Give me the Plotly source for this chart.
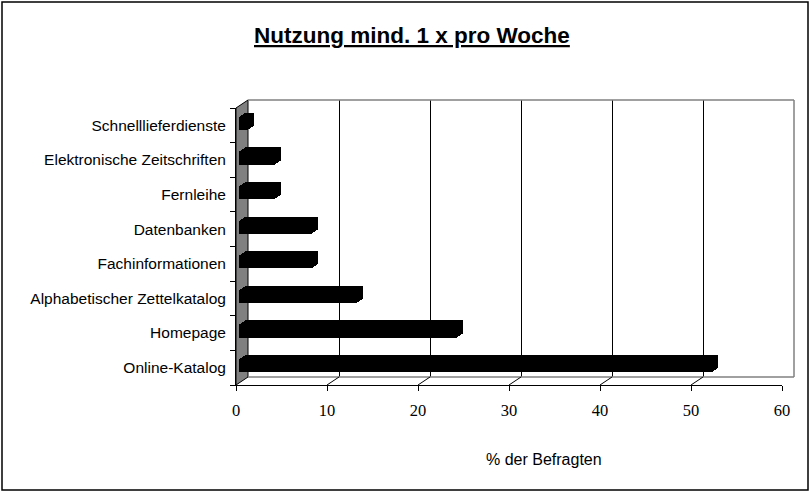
import plotly.graph_objects as go

# ---- data (bottom to top, as drawn) ----
categories = [
    "Online-Katalog",
    "Homepage",
    "Alphabetischer Zettelkatalog",
    "Fachinformationen",
    "Datenbanken",
    "Fernleihe",
    "Elektronische Zeitschriften",
    "Schnelllieferdienste",
]
values = [52, 24, 13, 8, 8, 4, 4, 1]
x_ticks = [0, 10, 20, 30, 40, 50, 60]
title_text = "Nutzung mind. 1 x pro Woche"
x_title = "% der Befragten"

W, H = 811, 492


def X(p):
    return p / W


def Y(p):
    return 1 - p / H


# front plane of the pseudo-3D box (pixels)
FX0, FX1, FYT, FYB = 236, 782, 108, 385
DX, DY = 12, 8  # depth offset
SANS = "Liberation Sans, Arial, sans-serif"
SERIF = "Liberation Serif, Times New Roman, serif"
XR = [0, 60]
YR = [-0.5, len(categories) - 0.5]

fig = go.Figure()
layout = {}

# subplot 1: back wall with gridlines
fig.add_trace(go.Scatter(x=XR, y=[0, 1], mode="markers", marker=dict(opacity=0),
                         hoverinfo="skip", showlegend=False, xaxis="x", yaxis="y"))
layout["xaxis"] = dict(domain=[X(FX0 + DX), X(FX1 + DX)], range=XR, tickvals=x_ticks[1:-1],
                       showgrid=True, gridcolor="black", gridwidth=1, showticklabels=False,
                       ticks="", zeroline=False, showline=False, anchor="y", fixedrange=True,
                       automargin=False)
layout["yaxis"] = dict(domain=[Y(FYB - DY), Y(FYT - DY)], range=[0, 1], visible=False,
                       anchor="x", fixedrange=True, automargin=False)

# subplot 2: front axes (value ticks and category labels)
fig.add_trace(go.Scatter(x=values, y=categories, mode="markers", marker=dict(opacity=0),
                         hoverinfo="skip", showlegend=False, xaxis="x2", yaxis="y2"))
layout["xaxis2"] = dict(domain=[X(FX0), X(FX1)], range=XR, tickvals=x_ticks, ticks="outside",
                        ticklen=5, tickcolor="black", showline=True, linecolor="black",
                        linewidth=1, showgrid=False, zeroline=False, anchor="y2",
                        ticklabelstandoff=5, automargin=False,
                        tickfont=dict(family=SERIF, size=16.5, color="black"), fixedrange=True)
layout["yaxis2"] = dict(domain=[Y(FYB), Y(FYT)], type="category", categoryorder="array",
                        categoryarray=categories, range=YR, tickson="boundaries",
                        ticks="outside", ticklen=5, tickcolor="black", showline=True,
                        linecolor="black", linewidth=1, showgrid=False, zeroline=False,
                        anchor="x2", ticklabelstandoff=6, automargin=False,
                        tickfont=dict(family=SANS, size=15.5, color="black"), fixedrange=True)

# bar layers: stacked offsets give the extruded (3D) look
for k in range(7):
    i = 3 + k
    dx = 3 + k
    dy = 2 + k * 4 / 6
    layout[f"xaxis{i}"] = dict(domain=[X(FX0 + dx), X(FX1 + dx)], range=XR, visible=False,
                               anchor=f"y{i}", fixedrange=True, automargin=False)
    layout[f"yaxis{i}"] = dict(domain=[Y(FYB - dy), Y(FYT - dy)], type="category",
                               categoryorder="array", categoryarray=categories, range=YR,
                               visible=False, anchor=f"x{i}", fixedrange=True,
                               automargin=False)
    fig.add_trace(go.Bar(x=values, y=categories, orientation="h", width=0.38,
                         marker=dict(color="black", line=dict(width=0)),
                         hoverinfo="skip", showlegend=False,
                         xaxis=f"x{i}", yaxis=f"y{i}"))

GRAY = "#808080"
shapes = [
    # left wall
    dict(type="path", xref="paper", yref="paper", layer="below",
         path=f"M {X(FX0)},{Y(FYT)} L {X(FX0+DX)},{Y(FYT-DY)} L {X(FX0+DX)},{Y(FYB-DY)} "
              f"L {X(FX0)},{Y(FYB)} Z",
         fillcolor=GRAY, line=dict(color="black", width=1)),
    # back wall top and right edges, floor back edge
    dict(type="line", xref="paper", yref="paper", x0=X(FX0 + DX), x1=X(FX1 + DX),
         y0=Y(FYT - DY), y1=Y(FYT - DY), line=dict(color=GRAY, width=1.5)),
    dict(type="line", xref="paper", yref="paper", x0=X(FX1 + DX), x1=X(FX1 + DX),
         y0=Y(FYT - DY), y1=Y(FYB - DY), line=dict(color=GRAY, width=1.5)),
    dict(type="line", xref="paper", yref="paper", x0=X(FX0 + DX), x1=X(FX1 + DX),
         y0=Y(FYB - DY), y1=Y(FYB - DY), line=dict(color=GRAY, width=1.5)),
    # outer frame
    dict(type="rect", xref="paper", yref="paper", x0=X(2), x1=X(808), y0=Y(490), y1=Y(2),
         line=dict(color="black", width=1.5)),
]
# floor diagonals continuing the gridlines
for t in x_ticks[1:]:
    shapes.append(dict(type="line", xref="x2", yref="paper", xsizemode="pixel", xanchor=t,
                       x0=0, x1=DX, y0=Y(FYB), y1=Y(FYB - DY),
                       line=dict(color=GRAY if t == x_ticks[-1] else "black", width=1)))

annotations = [
    dict(text=f"<b><u>{title_text}</u></b>", x=X(411.5), y=Y(35), xref="paper", yref="paper",
         xanchor="center", yanchor="middle", showarrow=False,
         font=dict(family=SANS, size=22.5, color="black")),
    dict(text=x_title, x=X(544), y=Y(459), xref="paper", yref="paper",
         xanchor="center", yanchor="middle", showarrow=False,
         font=dict(family=SANS, size=16, color="black")),
]

fig.update_layout(
    template="none",
    width=W, height=H, autosize=False, margin=dict(l=0, r=0, t=0, b=0, pad=0),
    paper_bgcolor="white", plot_bgcolor="rgba(0,0,0,0)",
    shapes=shapes, annotations=annotations, showlegend=False, bargap=0,
    **layout,
)

fig.write_html(
    "out.html",
    config={"displayModeBar": False, "responsive": False, "staticPlot": True},
    default_width=f"{W}px", default_height=f"{H}px",
    post_script="document.documentElement.style.margin='0';"
                "document.documentElement.style.overflow='hidden';"
                "document.body.style.margin='0';document.body.style.padding='0';"
                "document.body.style.overflow='hidden';",
)
